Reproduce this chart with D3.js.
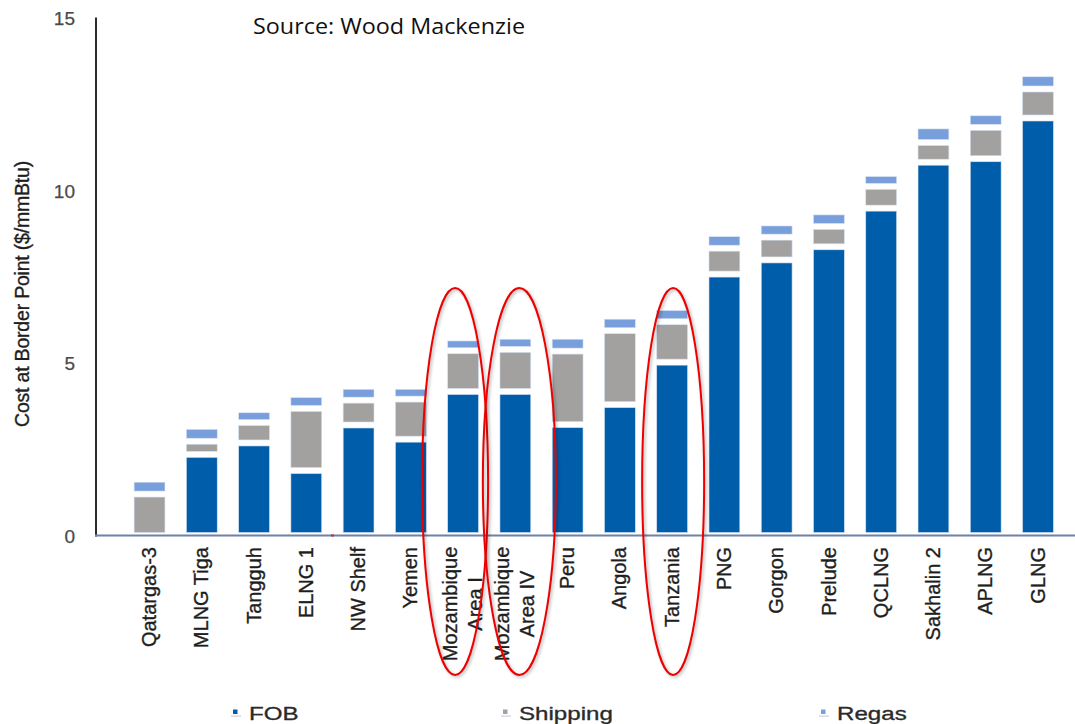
<!DOCTYPE html>
<html>
<head>
<meta charset="utf-8">
<script src="https://cdn.jsdelivr.net/npm/d3@7"></script>
<style>
  html, body { margin: 0; padding: 0; background: #fff; }
  svg { display: block; }
</style>
</head>
<body>
<svg id="chart" width="1075" height="724"></svg>
<script>
// ---- data ----
const categories = ["Qatargas-3", "MLNG Tiga", "Tangguh", "ELNG 1", "NW Shelf", "Yemen",
  "Mozambique\nArea I", "Mozambique\nArea IV", "Peru", "Angola", "Tanzania", "PNG",
  "Gorgon", "Prelude", "QCLNG", "Sakhalin 2", "APLNG", "GLNG"];
const fob      = [0, 2.35, 2.68, 1.88, 3.20, 2.79, 4.17, 4.17, 3.21, 3.79, 5.02, 7.57, 7.98, 8.36, 9.48, 10.81, 10.91, 12.09];
const shipping = [1.20, 0.38, 0.59, 1.80, 0.72, 1.16, 1.18, 1.22, 2.13, 2.14, 1.17, 0.75, 0.66, 0.59, 0.63, 0.57, 0.91, 0.84];
const regas    = [0.43, 0.43, 0.37, 0.40, 0.40, 0.37, 0.37, 0.38, 0.43, 0.42, 0.41, 0.42, 0.41, 0.42, 0.37, 0.48, 0.42, 0.44];
const seriesNames = ["FOB", "Shipping", "Regas"];
const yTicks = [0, 5, 10, 15];
const yTitle = "Cost at Border Point ($/mmBtu)";
const sourceText = "Source: Wood Mackenzie";
const highlighted = ["Mozambique\nArea I", "Mozambique\nArea IV", "Tanzania"];

// ---- setup ----
const colors = { "FOB": "#005DAA", "Shipping": "#A2A1A0", "Regas": "#789EDB" };
const svg = d3.select("#chart");
svg.append("rect").attr("width", 1075).attr("height", 724).attr("fill", "#fff");

const x = d3.scaleBand().domain(categories).range([123.4, 1064.1]).paddingInner(0.41).paddingOuter(0.205);
const y = d3.scaleLinear().domain([0, 15]).range([535.5, 17.5]);

const rows = categories.map((c, i) => ({ cat: c, FOB: fob[i], Shipping: shipping[i], Regas: regas[i] }));
const stacked = d3.stack().keys(seriesNames)(rows);

// ---- bars ----
const gap = 3;
svg.append("g").selectAll("g").data(stacked).join("g")
  .attr("fill", d => colors[d.key])
  .selectAll("rect").data(d => d).join("rect")
  .attr("x", d => x(d.data.cat))
  .attr("width", x.bandwidth())
  .attr("y", d => y(d[1]) + gap)
  .attr("height", d => Math.max(0, y(d[0]) - y(d[1]) - 2 * gap))
  .attr("stroke", "#d5e1f2").attr("stroke-width", 0.6);

// ---- axes ----
svg.append("line").attr("x1", 96).attr("x2", 96).attr("y1", y(15)).attr("y2", y(0) + 1)
  .attr("stroke", "#2b2b2b").attr("stroke-width", 2);
svg.append("line").attr("x1", 95).attr("x2", 1075).attr("y1", y(0)).attr("y2", y(0))
  .attr("stroke", "#6f82a6").attr("stroke-width", 2.2);
svg.append("rect").attr("x", 331).attr("y", y(0) - 1).attr("width", 3).attr("height", 2).attr("fill", "#e02020");

const yAxis = d3.axisLeft(y).tickValues(yTicks).tickSize(0).tickPadding(0).tickFormat(d3.format("d"));
const gy = svg.append("g").attr("transform", "translate(75,0)").call(yAxis);
gy.select(".domain").remove();
gy.selectAll("text").attr("font-family", "Liberation Sans, Arial, sans-serif")
  .attr("font-size", 19).attr("fill", "#4a4a4a").attr("dy", "0.36em")
  .attr("stroke", "#4a4a4a").attr("stroke-width", 0.25);

svg.append("text")
  .attr("transform", "translate(29,294) rotate(-90)")
  .attr("text-anchor", "middle")
  .attr("font-family", "Liberation Sans, Arial, sans-serif")
  .attr("font-size", 19.5).attr("letter-spacing", -0.2).attr("fill", "#1e1e1e")
  .attr("stroke", "#1e1e1e").attr("stroke-width", 0.35)
  .text(yTitle);

const labelG = svg.append("g").attr("font-family", "Liberation Sans, Arial, sans-serif")
  .attr("font-size", 20).attr("fill", "#1e1e1e").attr("stroke", "#1e1e1e").attr("stroke-width", 0.35);
categories.forEach(c => {
  const lines = c.split("\n");
  const cx = x(c) + x.bandwidth() / 2;
  if (lines.length === 1) {
    labelG.append("text")
      .attr("transform", `translate(${cx},547) rotate(-90)`)
      .attr("text-anchor", "end").attr("dy", "0.33em").text(c);
  } else {
    const t = labelG.append("text")
      .attr("transform", `translate(${cx},604) rotate(-90)`)
      .attr("text-anchor", "middle");
    lines.forEach((l, j) => {
      t.append("tspan").attr("x", 0).attr("dy", j === 0 ? "-0.3em" : "1.25em").text(l);
    });
  }
});

// ---- annotations (red ellipses) ----
const ellipseOffsets = { "Mozambique\nArea I": [-8, 33], "Mozambique\nArea IV": [4, 36.5], "Tanzania": [1, 31] };
const defs = svg.append("defs");
defs.append("filter").attr("id", "shadow").attr("x", "-20%").attr("y", "-20%").attr("width", "140%").attr("height", "140%")
  .append("feGaussianBlur").attr("stdDeviation", 1.5);
const annG = svg.append("g");
highlighted.forEach(c => {
  const [dx, rx] = ellipseOffsets[c];
  const cx = x(c) + x.bandwidth() / 2 + dx;
  annG.append("ellipse").attr("cx", cx + 1.5).attr("cy", 483).attr("rx", rx).attr("ry", 193.5)
    .attr("fill", "none").attr("stroke", "#000").attr("stroke-opacity", 0.25).attr("stroke-width", 2.5)
    .attr("filter", "url(#shadow)");
  annG.append("ellipse").attr("cx", cx).attr("cy", 481.5).attr("rx", rx).attr("ry", 193.5)
    .attr("fill", "none").attr("stroke", "#ee0000").attr("stroke-width", 2);
});

// ---- source ----
svg.append("text").attr("x", 253).attr("y", 34)
  .attr("font-family", "Open Sans, Lato, sans-serif").attr("font-size", 22.5).attr("fill", "#111")
  .attr("textLength", 272).attr("lengthAdjust", "spacingAndGlyphs")
  .text(sourceText);

// ---- legend ----
const legendX = [233, 503, 821];
const legG = svg.append("g");
seriesNames.forEach((s, i) => {
  const lx = legendX[i];
  legG.append("rect").attr("x", lx - 2).attr("y", 715.5).attr("width", 10).attr("height", 1.2).attr("fill", "#c9d3e4");
  legG.append("rect").attr("x", lx).attr("y", 709.5).attr("width", 4.5).attr("height", 4.5).attr("fill", colors[s]);
  legG.append("text").attr("transform", `translate(${lx + 16},719.5) scale(1.42,1.05)`)
    .attr("font-family", "Liberation Sans, Arial, sans-serif").attr("font-size", 17).attr("fill", "#2a2a2a")
    .attr("stroke", "#2a2a2a").attr("stroke-width", 0.3)
    .text(s);
});
</script>
</body>
</html>
